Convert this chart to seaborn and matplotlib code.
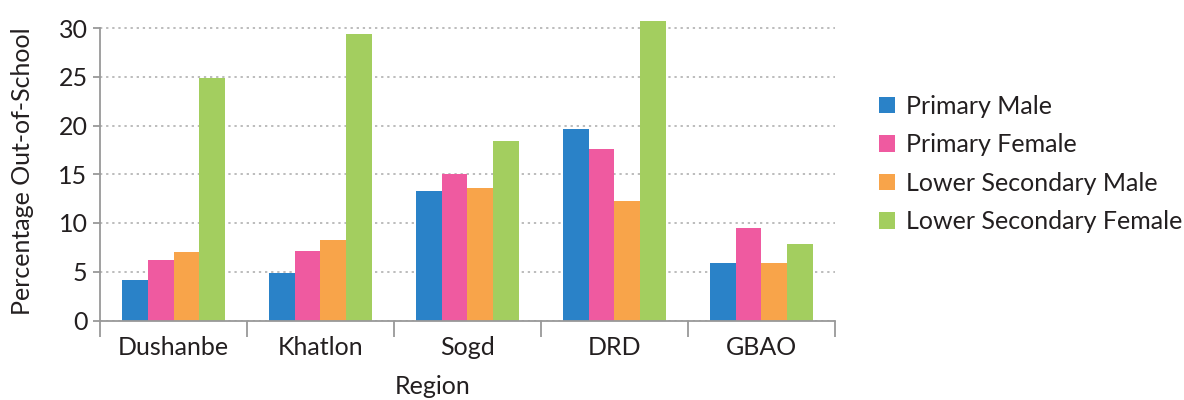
import matplotlib
matplotlib.use("Agg")
import matplotlib.pyplot as plt
import seaborn as sns
import pandas as pd
import numpy as np

regions = ["Dushanbe", "Khatlon", "Sogd", "DRD", "GBAO"]
series = ["Primary Male", "Primary Female", "Lower Secondary Male", "Lower Secondary Female"]
primary_male = [4.2, 4.9, 13.3, 19.6, 5.9]
primary_female = [6.2, 7.1, 15.0, 17.6, 9.5]
lower_sec_male = [7.0, 8.3, 13.6, 12.3, 5.9]
lower_sec_female = [24.9, 29.4, 18.4, 30.7, 7.8]
yticks = [0, 5, 10, 15, 20, 25, 30]
colors = ["#2a82c8", "#ef5aa0", "#f8a44a", "#a3ce5f"]

rows = []
for s, vals in zip(series, [primary_male, primary_female, lower_sec_male, lower_sec_female]):
    for r, v in zip(regions, vals):
        rows.append({"Region": r, "Series": s, "Value": v})
df = pd.DataFrame(rows)

sns.set_style("white")
plt.rcParams["font.family"] = ["Lato", "DejaVu Sans"]
text_color = "#231f20"
axis_color = "#999999"
fs = 18

fig = plt.figure(figsize=(11.84, 4.0), dpi=100)
W, H = 1184, 400
left, right = 100, 835
y0_px = 320.5
unit = 9.75
ymax = 31.0
top_px = y0_px - ymax * unit
ax = fig.add_axes([left / W, (H - y0_px) / H, (right - left) / W, (y0_px - top_px) / H])

sns.barplot(data=df, x="Region", y="Value", hue="Series", order=regions,
            hue_order=series, palette=colors, saturation=1, width=0.7,
            linewidth=0, ax=ax, legend=True, errorbar=None)

ax.set_ylim(0, ymax)
ax.set_xlim(-0.5, len(regions) - 0.5)
ax.set_yticks(yticks)
ax.set_yticklabels([str(t) for t in yticks])
ax.set_xlabel("")
ax.set_ylabel("")

ax.grid(axis="y", linestyle=(0, (1.5, 2.5)), color="#aaaaaa", linewidth=1.1)
ax.set_axisbelow(True)

for s in ["top", "right"]:
    ax.spines[s].set_visible(False)
ax.spines["left"].set_color(axis_color)
ax.spines["bottom"].set_color(axis_color)
ax.spines["left"].set_linewidth(1.3)
ax.spines["bottom"].set_linewidth(1.3)
ax.spines["left"].set_bounds(0, 30)

ax.tick_params(axis="y", length=5, width=1.3, color=axis_color, labelsize=fs,
               labelcolor=text_color, pad=4, left=True)
ax.tick_params(axis="x", which="major", length=0, labelsize=fs,
               labelcolor=text_color, pad=11)
ax.set_xticks(np.arange(-0.5, len(regions), 1.0), minor=True)
ax.tick_params(axis="x", which="minor", length=11.5, width=1.3, color=axis_color,
               direction="out", bottom=True)

handles, labels = ax.get_legend_handles_labels()
ax.get_legend().remove()
fig.legend(handles, labels, loc="center left", bbox_to_anchor=(856 / W, (H - 164) / H),
           frameon=False, fontsize=fs, handlelength=0.65, handleheight=0.65,
           handletextpad=0.45, labelspacing=0.62, labelcolor=text_color)

fig.text(433 / W, (H - 394) / H, "Region", ha="center", va="baseline",
         fontsize=fs, color=text_color)
fig.text(23 / W, (H - 171) / H, "Percentage Out-of-School", ha="center", va="center",
         rotation=90, fontsize=fs, color=text_color)

fig.savefig("out.png", dpi=100)
